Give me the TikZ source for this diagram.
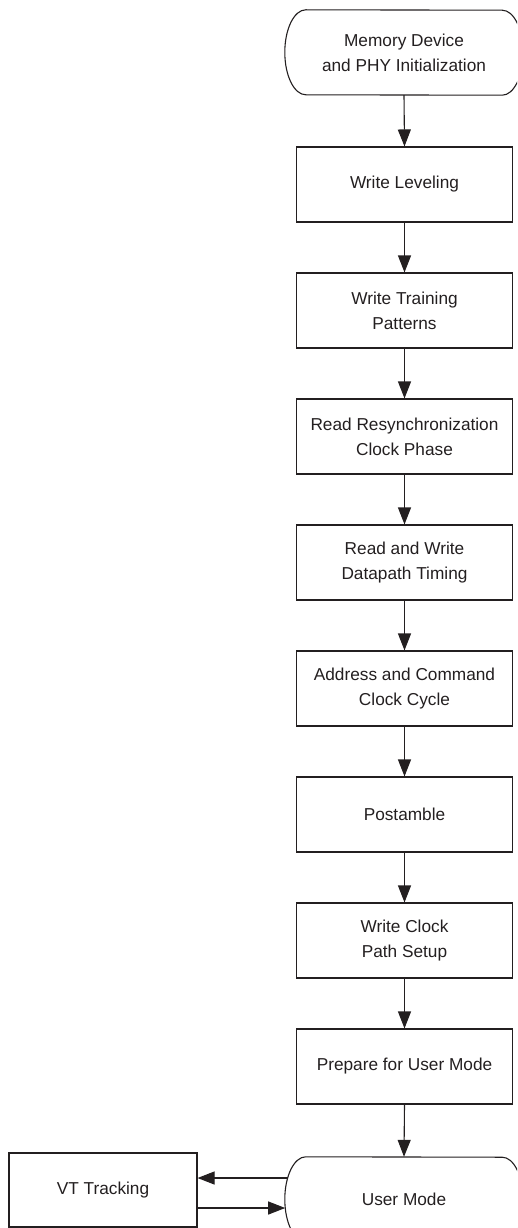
\documentclass[tikz,border=0pt]{standalone}
\usepackage{fontspec}
\setmainfont{Liberation Sans}
\usetikzlibrary{arrows.meta,calc}
\definecolor{ink}{HTML}{231F20}
\newcommand\drawterm[1]{\draw[ink,line width=1.1pt] (#1.north west) arc[start angle=90,end angle=270,x radius=21pt,y radius=42.5pt] -- (#1.south east) arc[start angle=-90,end angle=90,x radius=21pt,y radius=42.5pt] -- cycle;}
\begin{document}
\begin{tikzpicture}[x=1pt,y=-1pt,
  font=\fontsize{17.25}{25}\selectfont,
  box/.style={draw=ink,line width=1.1pt,minimum width=216pt,minimum height=75pt,align=center,inner sep=0pt,text=ink},
  term/.style={minimum width=196pt,minimum height=85pt,align=center,inner sep=0pt,text=ink},
  arr/.style={draw=ink,line width=1.1pt,-{Triangle[length=17pt,width=13pt]}}]
\useasboundingbox (0,0) rectangle (517,1228);
\clip (0,0) rectangle (517,1228);
\node[term] (init) at (404,52.5) {Memory Device\\and PHY Initialization};
\drawterm{init}
\node[box] (wl) at (404.5,184.5) {Write Leveling};
\node[box] (wt) at (404.5,310.5) {Write Training\\Patterns};
\node[box] (rr) at (404.5,436.5) {Read Resynchronization\\Clock Phase};
\node[box] (rw) at (404.5,562.5) {Read and Write\\Datapath Timing};
\node[box] (ac) at (404.5,688.5) {Address and Command\\Clock Cycle};
\node[box] (pa) at (404.5,814.5) {Postamble};
\node[box] (wc) at (404.5,940.5) {Write Clock\\Path Setup};
\node[box] (pu) at (404.5,1066.5) {Prepare for User Mode};
\node[term] (um) at (404,1199.5) {User Mode};
\drawterm{um}
\node[box,minimum width=188pt,minimum height=74pt] (vt) at (103,1190) {VT Tracking};
\draw[arr] (init.south) -- (wl.north);
\draw[arr] (wl) -- (wt);
\draw[arr] (wt) -- (rr);
\draw[arr] (rr) -- (rw);
\draw[arr] (rw) -- (ac);
\draw[arr] (ac) -- (pa);
\draw[arr] (pa) -- (wc);
\draw[arr] (wc) -- (pu);
\draw[arr] (pu.south) -- (um.north);
\coordinate (umA) at ($(um.west)+(-18.1,-21.5)$);
\coordinate (umB) at ($(um.west)+(-20.6,8.5)$);
\draw[arr] (umA) -- (umA -| vt.east);
\draw[arr] (umB -| vt.east) -- (umB);
\end{tikzpicture}
\end{document}
